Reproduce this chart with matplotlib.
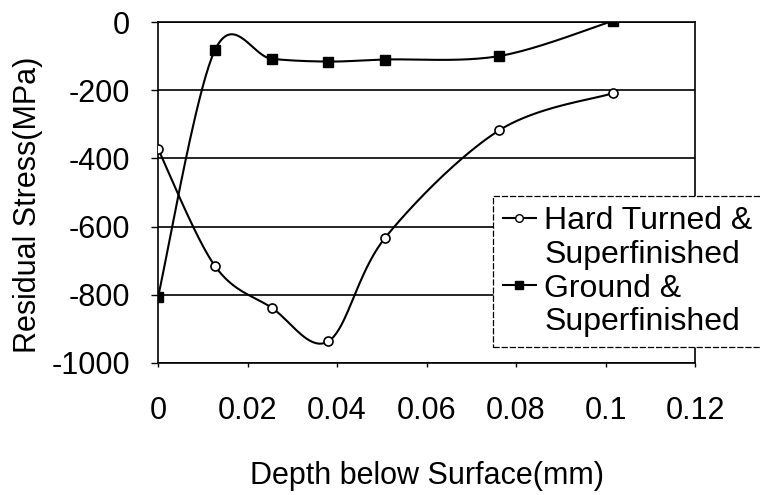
import numpy as np
import matplotlib
matplotlib.use("Agg")
import matplotlib.pyplot as plt
from matplotlib.lines import Line2D
from matplotlib.ticker import FuncFormatter

# data (depth in mm, stress in MPa)
depth = [0, 0.0127, 0.0254, 0.0381, 0.0508, 0.0762, 0.1016]
hard_turned = [-372, -715, -838, -936, -632, -318, -209]
ground = [-807, -83, -108, -116, -110, -100, 3]

x_ticks = [0, 0.02, 0.04, 0.06, 0.08, 0.1, 0.12]
y_ticks = [-1000, -800, -600, -400, -200, 0]
labels = ["Hard Turned &", "Superfinished", "Ground &", "Superfinished"]


def smooth(x, y, n=40):
    # excel-like smoothed line: cubic bezier with catmull-rom control points
    p = np.column_stack([x, y]).astype(float)
    p_ext = np.vstack([p[0], p, p[-1]])
    t = np.linspace(0, 1, n)[:, None]
    out = []
    for i in range(len(p) - 1):
        p0, p1, p2, p3 = p_ext[i], p_ext[i + 1], p_ext[i + 2], p_ext[i + 3]
        c1 = p1 + (p2 - p0) / 6
        c2 = p2 - (p3 - p1) / 6
        seg = ((1 - t) ** 3) * p1 + 3 * ((1 - t) ** 2) * t * c1 \
            + 3 * (1 - t) * t ** 2 * c2 + t ** 3 * p2
        out.append(seg if i == 0 else seg[1:])
    out = np.vstack(out)
    return out[:, 0], out[:, 1]


plt.rcParams['font.family'] = ['Liberation Sans', 'DejaVu Sans']
plt.rcParams['axes.unicode_minus'] = False
fs = 22

fig = plt.figure(figsize=(7.6, 4.95), dpi=100)
ax = fig.add_axes([158 / 760, 132 / 495, 537 / 760, 341 / 495])

lw = 1.5
xs, ys = smooth(depth, hard_turned)
ax.plot(xs, ys, color='black', lw=lw, zorder=3)
ax.plot(depth, hard_turned, 'o', ms=6.5, mfc='white', mec='black', mew=1.2, zorder=4)

xs, ys = smooth(depth, ground)
ax.plot(xs, ys, color='black', lw=lw, zorder=3)
ax.plot(depth, ground, 's', ms=7, mfc='black', mec='black', zorder=4)

ax.set_xlim(0, 0.12)
ax.set_ylim(-1000, 0)
ax.set_xticks(x_ticks)
ax.set_yticks(y_ticks)
ax.xaxis.set_major_formatter(FuncFormatter(lambda v, _: f"{v:g}"))
ax.yaxis.set_major_formatter(FuncFormatter(lambda v, _: f"{v:g}"))
ax.tick_params(axis='x', direction='out', length=3, width=1, pad=21, labelsize=fs)
ax.tick_params(axis='y', direction='out', length=5, width=1, pad=15, labelsize=fs)
ax.yaxis.grid(True, color='black', lw=1.2)
ax.set_axisbelow(True)
for s in ax.spines.values():
    s.set_linewidth(1.2)
    s.set_color('black')

ax.set_xlabel("Depth below Surface(mm)", fontsize=fs)
ax.xaxis.set_label_coords(0.5, -0.331)
ax.xaxis.label.set_va('center')
ax.set_ylabel("Residual Stress(MPa)", fontsize=fs)
ax.yaxis.set_label_coords(-0.243, 0.463)
ax.yaxis.label.set_va('center')

# legend: handle on the first line of each two-line label
h1 = Line2D([], [], color='black', lw=lw, marker='o', ms=5.5, mfc='white', mec='black')
h2 = Line2D([], [], color='black', lw=lw, marker='s', ms=5.5, mfc='black', mec='black')
blank = Line2D([], [], linestyle='none')
leg = ax.legend([h1, blank, h2, blank], labels, loc='lower left',
                bbox_to_anchor=(493 / 760, 148 / 495), bbox_transform=fig.transFigure,
                borderaxespad=0, fontsize=23, handlelength=1.05, handletextpad=0.25,
                labelspacing=0.12, borderpad=0.3, fancybox=False, framealpha=1,
                edgecolor='black')
leg.get_frame().set_linewidth(0.9)
leg.get_frame().set_linestyle((0, (5, 1.5)))
leg.set_zorder(5)

fig.savefig("out.png", dpi=100)
